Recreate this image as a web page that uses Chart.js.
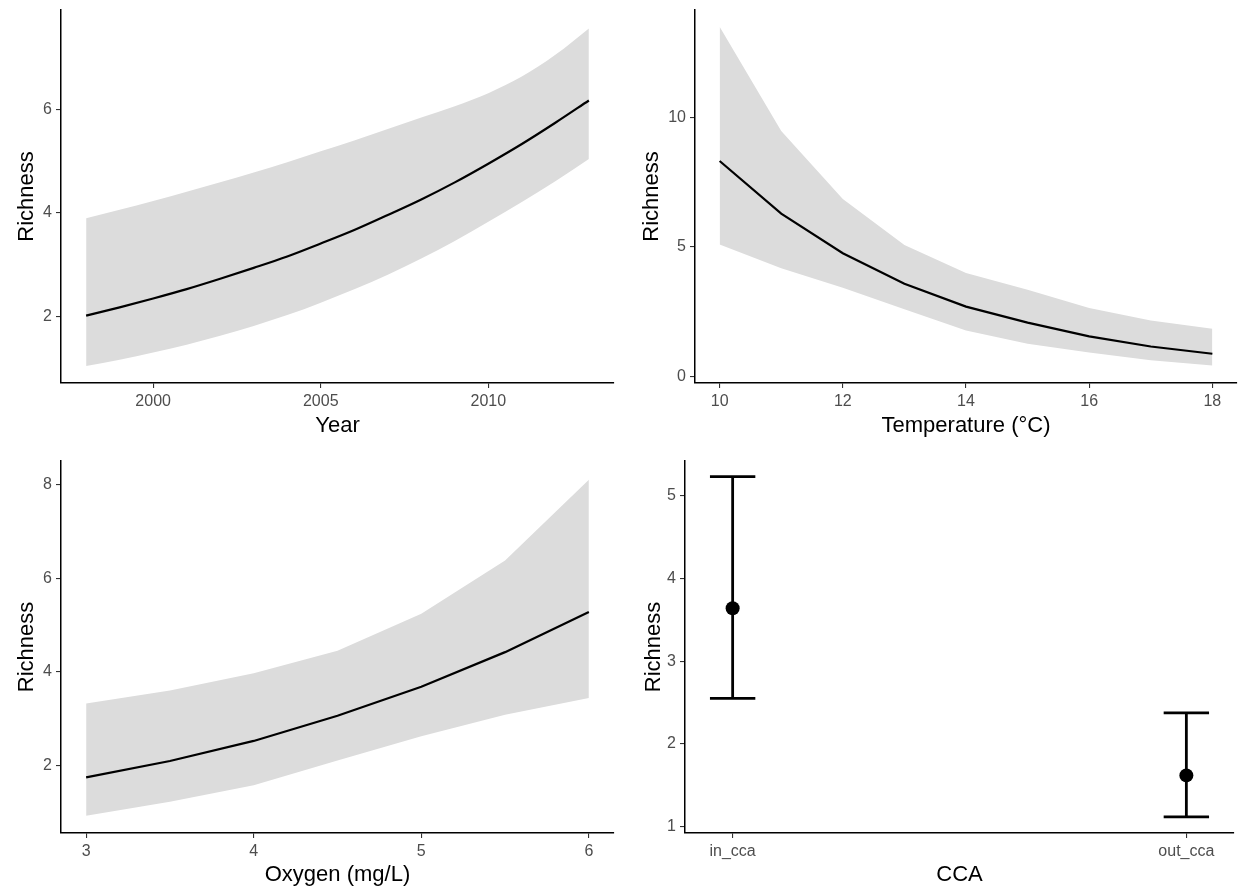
<!DOCTYPE html>
<html>
<head>
<meta charset="utf-8">
<script src="https://cdn.jsdelivr.net/npm/chart.js@4.4.1/dist/chart.umd.min.js"></script>
<style>
  html, body { margin: 0; padding: 0; background: #ffffff; }
  body { width: 1241px; height: 892px; position: relative; overflow: hidden; }
  .panel { position: absolute; }
</style>
</head>
<body>
<div class="panel" style="left:0px;top:0px;width:620px;height:446px;"><canvas id="c1" width="620" height="446"></canvas></div>
<div class="panel" style="left:620px;top:0px;width:621px;height:446px;"><canvas id="c2" width="621" height="446"></canvas></div>
<div class="panel" style="left:0px;top:446px;width:620px;height:446px;"><canvas id="c3" width="620" height="446"></canvas></div>
<div class="panel" style="left:620px;top:446px;width:621px;height:446px;"><canvas id="c4" width="621" height="446"></canvas></div>
<script>
// ---------------- data ----------------
const years   = [1998, 1999, 2000, 2001, 2002, 2003, 2004, 2005, 2006, 2007, 2008, 2009, 2010, 2011, 2012, 2013];
const yearFit = [2.02, 2.18, 2.35, 2.53, 2.73, 2.94, 3.16, 3.41, 3.67, 3.96, 4.26, 4.59, 4.95, 5.33, 5.74, 6.17];
const yearUpr = [3.90, 4.06, 4.23, 4.41, 4.59, 4.78, 4.98, 5.19, 5.40, 5.62, 5.84, 6.06, 6.31, 6.63, 7.05, 7.56];
const yearLwr = [1.05, 1.17, 1.31, 1.46, 1.63, 1.82, 2.03, 2.27, 2.53, 2.81, 3.12, 3.46, 3.83, 4.21, 4.61, 5.04];

const temps   = [10, 11, 12, 13, 14, 15, 16, 17, 18];
const tempFit = [8.32, 6.29, 4.76, 3.58, 2.70, 2.08, 1.55, 1.16, 0.88];
const tempUpr = [13.5, 9.48, 6.85, 5.08, 4.00, 3.35, 2.65, 2.16, 1.84];
const tempLwr = [5.10, 4.18, 3.43, 2.60, 1.78, 1.27, 0.93, 0.63, 0.43];

const oxygen = [3, 3.5, 4, 4.5, 5, 5.5, 6];
const oxyFit = [1.74, 2.09, 2.52, 3.06, 3.68, 4.42, 5.28];
const oxyUpr = [3.32, 3.60, 3.97, 4.45, 5.24, 6.38, 8.11];
const oxyLwr = [0.92, 1.22, 1.57, 2.10, 2.62, 3.08, 3.44];

const ccaGroups = ['in_cca', 'out_cca'];
const ccaFit = [3.64, 1.62];
const ccaUpr = [5.23, 2.375];
const ccaLwr = [2.55, 1.12];

const yearTicks  = [2000, 2005, 2010];
const rich1Ticks = [2, 4, 6];
const tempTicks  = [10, 12, 14, 16, 18];
const rich2Ticks = [0, 5, 10];
const oxyTicks   = [3, 4, 5, 6];
const rich3Ticks = [2, 4, 6, 8];
const ccaTicks   = [1, 2];
const rich4Ticks = [1, 2, 3, 4, 5];

// ---------------- styling helpers ----------------
const FONT = "'Liberation Sans', Arial, Helvetica, sans-serif";
const TICK_COLOR = '#4D4D4D';
const RIBBON = '#DCDCDC';

function pts(xs, ys) { return xs.map((x, i) => ({ x: x, y: ys[i] })); }

function makeScale(o) {
  return {
    type: 'linear',
    position: o.position,
    min: o.min,
    max: o.max,
    afterBuildTicks: (s) => { s.ticks = o.ticks.map(v => ({ value: v })); },
    afterFit: (s) => {
      if (o.position === 'bottom') { s.height = o.size; } else { s.width = o.size; }
      s.paddingTop = 0; s.paddingBottom = 0; s.paddingLeft = 0; s.paddingRight = 0;
    },
    grid: { display: true, drawOnChartArea: false, drawTicks: true, tickLength: 5, color: '#333333', lineWidth: 1.1 },
    border: { display: true, color: '#000000', width: 1.5 },
    ticks: {
      autoSkip: false, maxRotation: 0, minRotation: 0,
      padding: o.position === 'bottom' ? 4 : 4,
      color: TICK_COLOR,
      font: { family: FONT, size: 16 },
      callback: o.labels ? ((v, i) => o.labels[i]) : ((v) => String(v))
    },
    title: {
      display: true, text: o.title, color: '#000000',
      font: { family: FONT, size: 22 },
      padding: o.position === 'bottom' ? { top: 0, bottom: o.tpad } : { top: o.tpad, bottom: 0 }
    }
  };
}

function baseOptions(p, xs, ys) {
  return {
    responsive: false,
    animation: false,
    devicePixelRatio: 1,
    layout: { padding: { left: 0, top: p.padTop, right: p.padRight, bottom: 0 } },
    plugins: { legend: { display: false }, tooltip: { enabled: false } },
    scales: { x: makeScale(xs), y: makeScale(ys) }
  };
}

function ribbonChart(id, p, xv, fit, upr, lwr, xs, ys, smooth) {
  const common = { pointRadius: 0, pointHoverRadius: 0, cubicInterpolationMode: smooth ? 'monotone' : 'default', tension: 0 };
  new Chart(document.getElementById(id), {
    type: 'line',
    data: {
      datasets: [
        Object.assign({ data: pts(xv, fit), borderColor: '#000000', borderWidth: 2.2, fill: false, order: 0 }, common),
        Object.assign({ data: pts(xv, upr), borderWidth: 0, borderColor: 'rgba(0,0,0,0)', backgroundColor: RIBBON, fill: '+1', order: 1 }, common),
        Object.assign({ data: pts(xv, lwr), borderWidth: 0, borderColor: 'rgba(0,0,0,0)', fill: false, order: 2 }, common)
      ]
    },
    options: baseOptions(p, xs, ys)
  });
}

// Panel 1: Year
ribbonChart('c1', { padTop: 10, padRight: 6 }, years, yearFit, yearUpr, yearLwr,
  { position: 'bottom', min: 1997.25, max: 2013.75, ticks: yearTicks, title: 'Year', size: 63, tpad: 7 },
  { position: 'left', min: 0.72, max: 7.915, ticks: rich1Ticks, title: 'Richness', size: 61, tpad: 14.2 }, true);

// Panel 2: Temperature
ribbonChart('c2', { padTop: 10, padRight: 4 }, temps, tempFit, tempUpr, tempLwr,
  { position: 'bottom', min: 9.6, max: 18.4, ticks: tempTicks, title: 'Temperature (°C)', size: 63, tpad: 7 },
  { position: 'left', min: -0.25, max: 14.15, ticks: rich2Ticks, title: 'Richness', size: 75, tpad: 19.2 }, false);

// Panel 3: Oxygen
ribbonChart('c3', { padTop: 15, padRight: 6 }, oxygen, oxyFit, oxyUpr, oxyLwr,
  { position: 'bottom', min: 2.85, max: 6.15, ticks: oxyTicks, title: 'Oxygen (mg/L)', size: 59, tpad: 3.7 },
  { position: 'left', min: 0.55, max: 8.51, ticks: rich3Ticks, title: 'Richness', size: 61, tpad: 14.2 }, false);

// Panel 4: CCA point + error bars
(function () {
  const capHalf = 0.05;
  const lineStyle = { type: 'line', showLine: true, borderColor: '#000000', borderWidth: 2.8, borderCapStyle: 'butt', pointRadius: 0, pointHoverRadius: 0, fill: false, order: 1 };
  const datasets = [];
  ccaGroups.forEach((g, i) => {
    const xpos = ccaTicks[i];
    datasets.push(Object.assign({ data: [{ x: xpos, y: ccaLwr[i] }, { x: xpos, y: ccaUpr[i] }] }, lineStyle));
    datasets.push(Object.assign({ data: [{ x: xpos - capHalf, y: ccaUpr[i] }, { x: xpos + capHalf, y: ccaUpr[i] }] }, lineStyle));
    datasets.push(Object.assign({ data: [{ x: xpos - capHalf, y: ccaLwr[i] }, { x: xpos + capHalf, y: ccaLwr[i] }] }, lineStyle));
  });
  datasets.push({
    type: 'scatter', order: 0,
    data: pts(ccaTicks, ccaFit),
    pointRadius: 7, pointHoverRadius: 7, backgroundColor: '#000000', borderWidth: 0
  });
  new Chart(document.getElementById('c4'), {
    type: 'scatter',
    data: { datasets: datasets },
    options: baseOptions({ padTop: 15, padRight: 5 },
      { position: 'bottom', min: 0.895, max: 2.105, ticks: ccaTicks, labels: ccaGroups, title: 'CCA', size: 59, tpad: 3.7 },
      { position: 'left', min: 0.924, max: 5.42, ticks: rich4Ticks, title: 'Richness', size: 65, tpad: 20.9 })
  });
})();
</script>
</body>
</html>
